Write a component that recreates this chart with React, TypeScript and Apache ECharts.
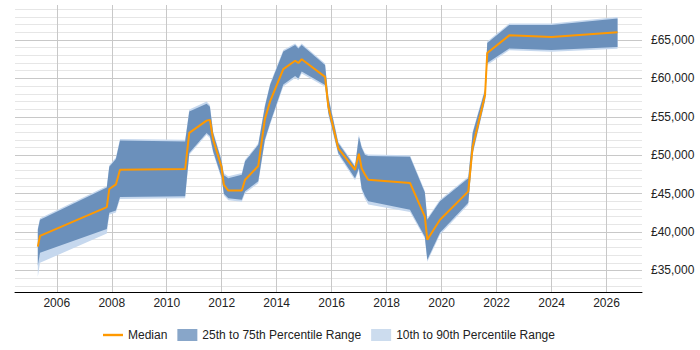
import React, { useEffect, useRef } from "react";
import * as echarts from "echarts";

const years = [
  2005.31, 2005.39, 2007.82, 2007.91, 2008.15, 2008.3, 2010.67, 2010.82, 2011.45, 2011.57,
  2011.69, 2011.99, 2012.08, 2012.24, 2012.73, 2012.85, 2013.33, 2013.57, 2013.76, 2014.24,
  2014.67, 2014.79, 2014.91, 2015.76, 2015.88, 2016.24, 2016.85, 2016.99, 2017.09, 2017.21,
  2017.33, 2018.85, 2019.39, 2019.48, 2019.94, 2020.97, 2021.13, 2021.58, 2021.66, 2022.46,
  2024.0, 2026.4,
];

const median = [
  38100, 39500, 43250, 45600, 46200, 48100, 48200, 52900, 54500, 54600,
  52000, 48500, 46150, 45400, 45400, 46800, 48600, 54700, 57000, 61200,
  62300, 62000, 62500, 60200, 56300, 50900, 48100, 50200, 48300, 47500,
  46800, 46400, 42000, 39000, 41600, 45300, 51100, 57800, 63300, 65600,
  65400, 66000,
];

const p25 = [
  35600, 37300, 40400, 42500, 42800, 44550, 44650, 50300, 52900, 52500,
  50500, 47200, 45000, 44400, 44200, 45300, 46600, 52000, 54200, 59200,
  60300, 60000, 60900, 59150, 55500, 50300, 47000, 48300, 45700, 44700,
  44000, 42900, 39400, 36400, 39900, 43800, 50300, 57200, 62000, 63900,
  63700, 64100,
];

const p75 = [
  40300, 41600, 45800, 48500, 49500, 51900, 51800, 55700, 56700, 56300,
  52900, 49300, 47400, 47000, 47450, 49200, 51350, 56300, 59150, 63500,
  64350, 63900, 64350, 61750, 57500, 51600, 48500, 52400, 51000, 50050,
  49900, 49800, 45150, 41600, 44000, 47000, 52900, 58500, 64600, 66950,
  66950, 67800,
];

const p10 = [
  34200, 36000, 39800, 42250, 42550, 44300, 44400, 50050, 52650, 52250,
  50250, 46950, 44750, 44150, 43950, 45050, 46350, 51750, 53950, 58950,
  60050, 59750, 60650, 58900, 55250, 50050, 46750, 48050, 45450, 44350,
  43600, 42600, 39150, 36150, 39650, 43550, 50050, 56950, 61750, 63650,
  63450, 63850,
];

const p90 = [
  40500, 41800, 46000, 48700, 49700, 52100, 52000, 55950, 57000, 56550,
  53100, 49500, 47650, 47250, 47700, 49400, 51550, 56500, 59350, 63700,
  64550, 64100, 64550, 61950, 57700, 51800, 48700, 52650, 51200, 50250,
  50100, 50000, 45350, 41800, 44200, 47200, 53100, 58700, 64800, 67150,
  67150, 68000,
];

const FONT = "'Liberation Sans', Arial, sans-serif";
const MEDIAN = "Median";
const IQR = "25th to 75th Percentile Range";
const DR = "10th to 90th Percentile Range";

function fmtMoney(v: number) {
  return "£" + String(v).replace(/\B(?=(\d{3})+(?!\d))/g, ",");
}

function band(name: string, lo: number[], hi: number[], color: string, z: number) {
  return {
    type: "custom",
    name,
    coordinateSystem: "cartesian2d",
    data: years.map((y, i) => [y, lo[i], hi[i]]),
    encode: { x: 0, y: [1, 2] },
    itemStyle: { color },
    silent: true,
    z,
    renderItem: (params: any, api: any) => {
      if (params.dataIndex !== 0) return null;
      const top = years.map((y, i) => api.coord([y, hi[i]]));
      const bot = years.map((y, i) => api.coord([y, lo[i]])).reverse();
      return {
        type: "polygon",
        shape: { points: top.concat(bot) },
        style: { fill: color },
      };
    },
  };
}

export default function App() {
  const ref = useRef<HTMLDivElement>(null);
  useEffect(() => {
    document.body.style.margin = "0";
    const chart = echarts.init(ref.current!, null, { renderer: "svg" });
    chart.setOption({
      animation: false,
      textStyle: { fontFamily: FONT },
      grid: { left: 15, right: 58, top: 5, bottom: 58 },
      legend: {
        left: 98,
        top: 324,
        itemWidth: 20,
        itemHeight: 12,
        itemGap: 10,
        symbolKeepAspect: true,
        textStyle: { color: "#222", fontSize: 12, fontFamily: FONT },
        data: [
          {
            name: MEDIAN,
            icon: "path://M0,0L20,0L20,2.4L0,2.4Z",
            itemStyle: { color: "#ff9900", borderWidth: 0 },
          },
          { name: IQR, icon: "rect", itemStyle: { color: "#88a6c9", borderWidth: 0 } },
          { name: DR, icon: "rect", itemStyle: { color: "#ccdcee", borderWidth: 0 } },
        ],
      },
      xAxis: {
        type: "value",
        min: 2004.48,
        max: 2027.29,
        splitNumber: 10,
        minInterval: 2,
        maxInterval: 2,
        axisLine: { show: true, onZero: false, lineStyle: { color: "#000", width: 1 } },
        axisTick: { show: false },
        axisLabel: {
          margin: 5,
          color: "#222",
          fontSize: 12,
          fontFamily: FONT,
          formatter: (v: number) =>
            Math.abs(v - Math.round(v)) < 1e-6 && Math.round(v) % 2 === 0 ? String(Math.round(v)) : "",
        },
        splitLine: {
          show: true,
          showMinLine: false,
          showMaxLine: false,
          lineStyle: { color: "#c8c8c8", width: 1 },
        },
      },
      yAxis: {
        type: "value",
        position: "right",
        min: 32200,
        max: 69550,
        splitNumber: 7,
        minInterval: 5000,
        maxInterval: 5000,
        axisLine: { show: false },
        axisTick: { show: false },
        axisLabel: {
          margin: 9,
          color: "#222",
          fontSize: 12,
          fontFamily: FONT,
          formatter: (v: number) => (Math.round(v) % 5000 === 0 ? fmtMoney(Math.round(v)) : ""),
        },
        splitLine: {
          show: true,
          showMinLine: false,
          showMaxLine: false,
          lineStyle: { color: "#c8c8c8", width: 1 },
        },
        minorTick: { show: false, splitNumber: 5 },
        minorSplitLine: { show: true, lineStyle: { color: "#e6e6e6", width: 1 } },
      },
      series: [
        band(DR, p10, p90, "#c6d8ee", 1),
        band(IQR, p25, p75, "#6b90bb", 2),
        {
          type: "line",
          name: MEDIAN,
          data: years.map((y, i) => [y, median[i]]),
          symbol: "none",
          showSymbol: false,
          itemStyle: { color: "#ff9900" },
          lineStyle: { color: "#ff9900", width: 2 },
          z: 3,
        },
      ],
    });
    return () => chart.dispose();
  }, []);
  return <div ref={ref} style={{ width: 700, height: 350 }} />;
}
